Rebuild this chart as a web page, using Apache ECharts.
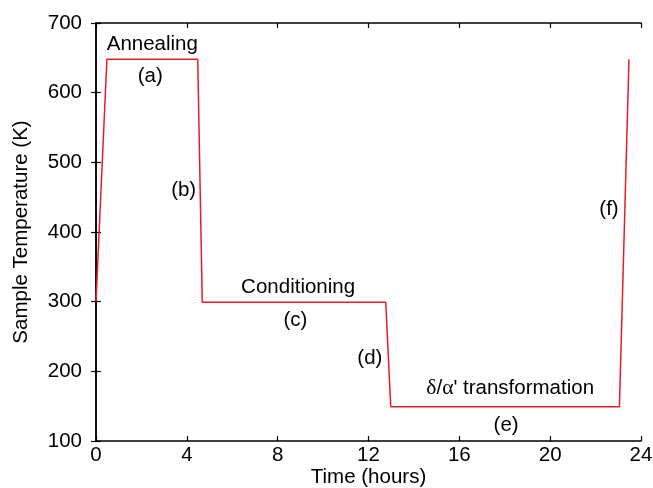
<!DOCTYPE html>
<html><head><meta charset="utf-8">
<script src="https://cdn.jsdelivr.net/npm/echarts@6/dist/echarts.min.js"></script>
<style>html,body{margin:0;padding:0;background:#fff;overflow:hidden}#c{width:653px;height:488px}</style>
</head><body><div id="c"></div>
<script>
const timeHours = [0, 0.48, 4.48, 4.68, 12.76, 12.98, 23.05, 23.47];
const temperatureK = [300, 648, 648, 299, 299, 149, 149, 648];
const annotationText = ["Annealing", "(a)", "(b)", "Conditioning", "(c)", "(d)", "δ/α' transformation", "(e)", "(f)"];
const annotationX = [2.48, 2.39, 3.86, 8.90, 8.78, 12.06, 18.24, 18.06, 22.59];
const annotationY = [669, 624, 460, 321, 273, 219, 175, 123, 432];
const xTicks = [0, 4, 8, 12, 16, 20, 24];
const yTicks = [100, 200, 300, 400, 500, 600, 700];

const font = "'Liberation Sans', Arial, Helvetica, sans-serif";
const serif = "'Liberation Serif', 'DejaVu Serif', serif";
const fs = 20.5;
const chart = echarts.init(document.getElementById('c'));
const axisCommon = {
  axisLine: {show: true, lineStyle: {color: '#000', width: 1.5}},
  axisTick: {show: true, inside: true, length: 5, lineStyle: {color: '#000', width: 1.2}},
  splitLine: {show: false}
};
function fmt(p) {
  // Greek letters drawn in a serif face, as in the reference
  return p.name.replace(/([δα])/g, '{g|$1}').replace(/^(.*)$/, function (m) {
    return m.split(/(\{g\|[δα]\})/).map(s => s.startsWith('{g|') ? s : (s ? '{n|' + s + '}' : '')).join('');
  });
}
chart.setOption({
  animation: false,
  grid: {left: 96, right: 12, top: 23, bottom: 47, containLabel: false, outerBoundsMode: 'none'},
  xAxis: [
    Object.assign({}, axisCommon, {type: 'value', min: xTicks[0], max: xTicks[xTicks.length-1], interval: xTicks[1]-xTicks[0],
      name: 'Time (hours)', nameLocation: 'middle', nameGap: 26, nameMoveOverlap: false,
      nameTextStyle: {fontFamily: font, fontSize: fs, color: '#000'},
      axisLabel: {fontFamily: font, fontSize: fs, color: '#000', margin: 4}}),
    Object.assign({}, axisCommon, {type: 'value', position: 'top', min: xTicks[0], max: xTicks[xTicks.length-1], interval: xTicks[1]-xTicks[0], axisLabel: {show: false}})
  ],
  yAxis: [
    Object.assign({}, axisCommon, {type: 'value', min: yTicks[0], max: yTicks[yTicks.length-1], interval: yTicks[1]-yTicks[0],
      name: 'Sample Temperature (K)', nameLocation: 'middle', nameGap: 64, nameMoveOverlap: false,
      nameTextStyle: {fontFamily: font, fontSize: fs, color: '#000'},
      axisLabel: {fontFamily: font, fontSize: fs, color: '#000', margin: 14}}),
    Object.assign({}, axisCommon, {type: 'value', position: 'right', min: yTicks[0], max: yTicks[yTicks.length-1], interval: yTicks[1]-yTicks[0], axisLabel: {show: false}})
  ],
  series: [
    {type: 'line', xAxisIndex: 0, yAxisIndex: 0, data: timeHours.map((t, i) => [t, temperatureK[i]]),
      showSymbol: false, symbol: 'none', lineStyle: {color: '#e41f26', width: 1.5}},
    {type: 'scatter', xAxisIndex: 0, yAxisIndex: 0, symbolSize: 0, silent: true,
      itemStyle: {opacity: 1},
      data: annotationText.map((s, i) => ({value: [annotationX[i], annotationY[i]], name: s})),
      label: {show: true, position: 'inside', formatter: fmt, fontFamily: font, fontSize: fs, color: '#000',
        rich: {
          n: {fontFamily: font, fontSize: fs, color: '#000'},
          g: {fontFamily: serif, fontSize: fs + 1, color: '#000'}
        }}}
  ]
});
</script></body></html>
